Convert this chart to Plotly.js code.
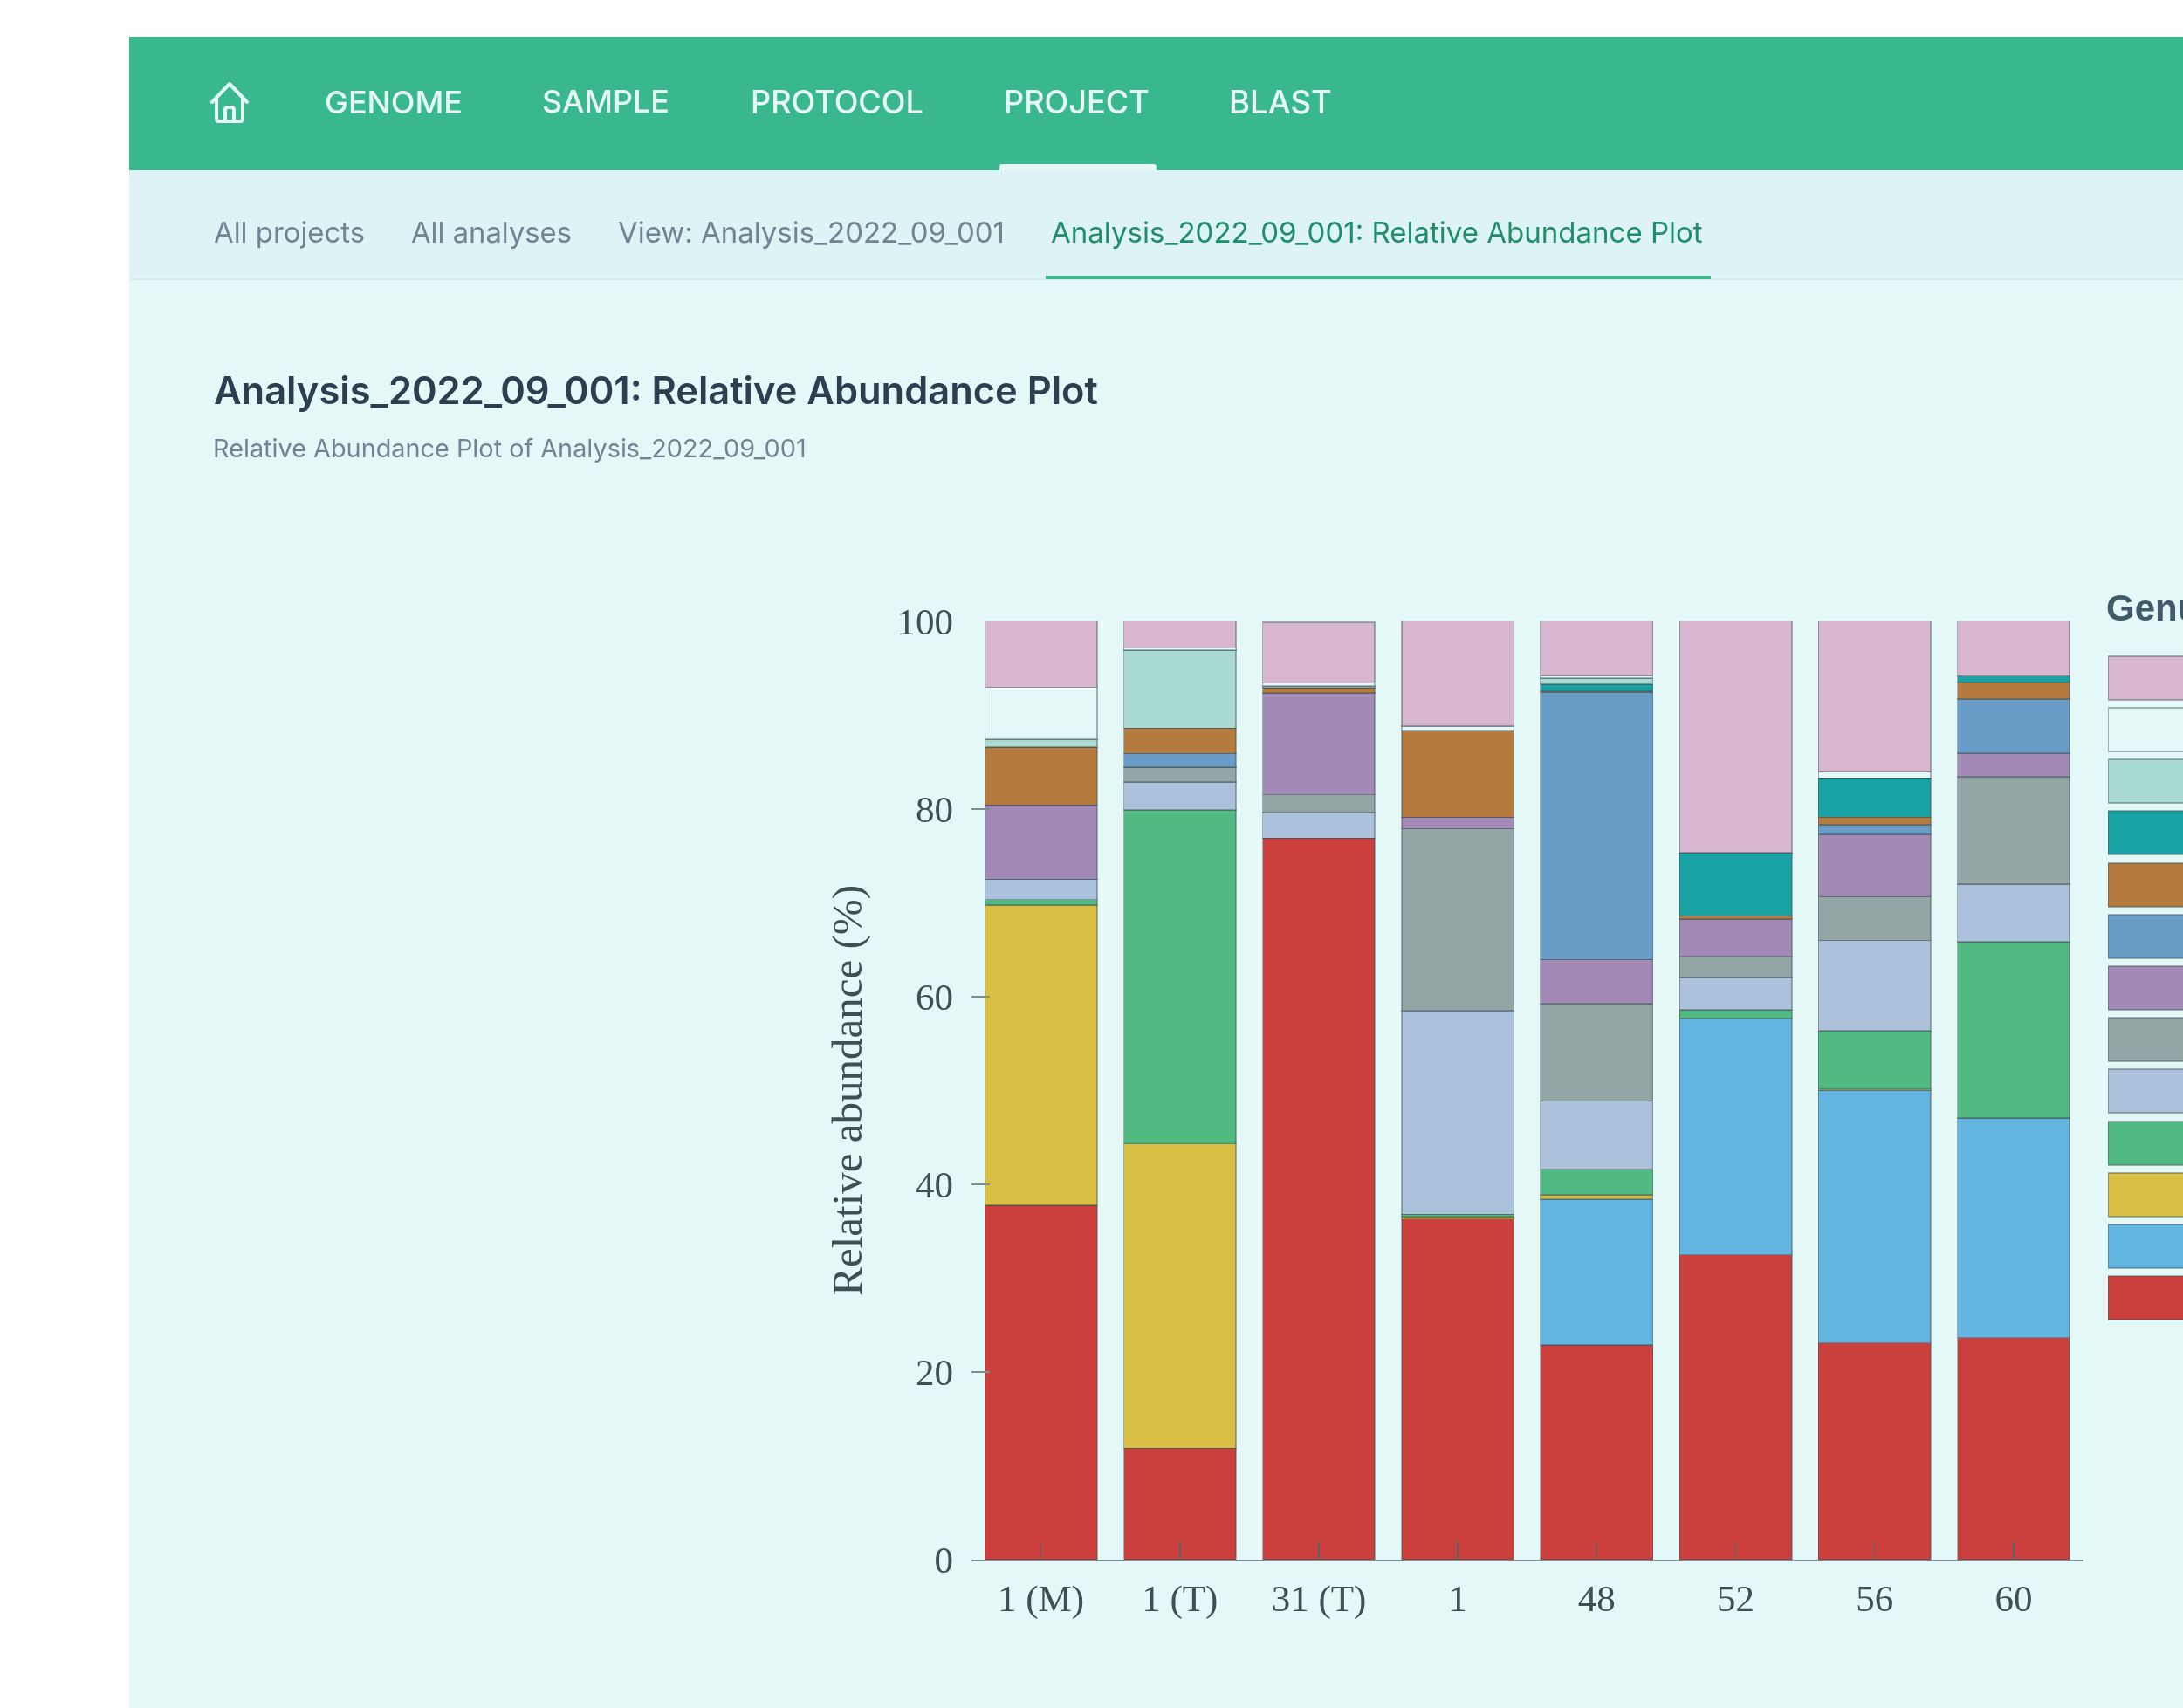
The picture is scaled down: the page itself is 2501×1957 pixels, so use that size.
<!DOCTYPE html>
<html>
<head>
<meta charset="utf-8">
<title>Analysis_2022_09_001: Relative Abundance Plot</title>
<script src="https://cdn.plot.ly/plotly-3.0.1.min.js"></script>
<style>
  html, body { margin: 0; padding: 0; width: 2501px; height: 1957px; overflow: hidden; background: #fff; }
  #page { position: absolute; left: 0; top: 0; width: 2501px; height: 1957px; overflow: hidden; font-family: Inter, sans-serif; filter: blur(0.7px); }
  .band { position: absolute; }
  .t { position: absolute; white-space: nowrap; transform: translateY(-50%); line-height: 1; }
  #chart { position: absolute; left: 0; top: 0; width: 2800px; height: 1957px; }
</style>
</head>
<body>
<div id="page">
  <div class="band" style="left:148px;top:42px;width:2353px;height:153px;background:#39B88F"></div>
  <div class="band" style="left:148px;top:195px;width:2353px;height:126px;background:#DEF3F5;border-bottom:2px solid #D5ECEC;box-sizing:border-box"></div>
  <div class="band" style="left:148px;top:321px;width:2353px;height:1636px;background:#E4F8F8"></div>
  <div class="band" style="left:1145px;top:188px;width:180px;height:7px;background:#E6F8F4;border-radius:3px 3px 0 0"></div>
  <div class="band" style="left:1198px;top:316px;width:762px;height:4px;background:#3DB68E"></div>
  <svg class="band" style="left:238px;top:92px" width="50" height="52" viewBox="0 0 50 52">
    <path d="M5 25 L25 4 L45 25 M10 21 V44 Q10 47 13 47 H37 Q40 47 40 44 V21 M20 47 V34 Q20 31 23 31 H27 Q30 31 30 34 V47" fill="none" stroke="#E4F8F4" stroke-width="4" stroke-linejoin="round" stroke-linecap="round"/>
  </svg>
  <span class="t" data-w="158" style="left:372px;top:117px;font-size:34px;font-weight:500;color:#E6F8F4">GENOME</span>
  <span class="t" data-w="146" style="left:621px;top:117px;font-size:34px;font-weight:500;color:#E6F8F4">SAMPLE</span>
  <span class="t" data-w="198" style="left:860px;top:117px;font-size:34px;font-weight:500;color:#E6F8F4">PROTOCOL</span>
  <span class="t" data-w="167" style="left:1150px;top:117px;font-size:34px;font-weight:500;color:#E6F8F4">PROJECT</span>
  <span class="t" data-w="118" style="left:1408px;top:117px;font-size:34px;font-weight:500;color:#E6F8F4">BLAST</span>
  <span class="t" data-w="173" style="left:245px;top:266px;font-size:31px;color:#6F8593">All projects</span>
  <span class="t" data-w="184" style="left:471px;top:266px;font-size:31px;color:#6F8593">All analyses</span>
  <span class="t" data-w="443" style="left:708px;top:266px;font-size:31px;color:#6F8593">View: Analysis_2022_09_001</span>
  <span class="t" data-w="747" style="left:1204px;top:267px;font-size:31px;color:#1E8F68">Analysis_2022_09_001: Relative Abundance Plot</span>
  <span class="t" data-w="1013" style="left:245px;top:448px;font-size:41px;font-weight:600;color:#2A3F4F">Analysis_2022_09_001: Relative Abundance Plot</span>
  <span class="t" data-w="680" style="left:244px;top:514px;font-size:28px;color:#6F8593">Relative Abundance Plot of Analysis_2022_09_001</span>
  <div id="chart"></div>
</div>
<script>
// Samples along the x axis
const samples = ['1 (M)', '1 (T)', '31 (T)', '1', '48', '52', '56', '60'];
const yTicks = [0, 20, 40, 60, 80, 100];

// Relative abundance (%) per sample, one series per legend colour, stacked bottom to top
const redSeries    = [37.75, 11.86, 76.87, 36.3, 22.9, 32.5, 23.1, 23.65];
const skySeries    = [0, 0, 0, 0, 15.5, 25.15, 26.95, 23.4];
const yellowSeries = [32.0, 32.44, 0, 0.25, 0.46, 0, 0.1, 0];
const greenSeries  = [0.6, 35.6, 0, 0.25, 2.74, 0.95, 6.2, 18.8];
const paleSeries   = [2.15, 2.95, 2.73, 21.7, 7.26, 3.4, 9.65, 6.15];
const greySeries   = [0, 1.6, 1.9, 19.4, 10.39, 2.3, 4.65, 11.4];
const purpleSeries = [7.9, 0, 10.85, 1.2, 4.7, 3.95, 6.65, 2.55];
const blueSeries   = [0, 1.45, 0, 0, 28.45, 0, 1.0, 5.75];
const brownSeries  = [6.2, 2.7, 0.55, 9.25, 0.15, 0.35, 0.8, 1.8];
const tealSeries   = [0, 0, 0, 0, 0.75, 6.75, 4.2, 0.7];
const mintSeries   = [0.8, 8.3, 0.2, 0, 0.65, 0, 0, 0];
const blankSeries  = [5.55, 0.25, 0.3, 0.45, 0.25, 0, 0.7, 0];
const pinkSeries   = [7.05, 2.85, 6.5, 11.2, 5.8, 24.65, 16.0, 5.8];

const seriesList = [redSeries, skySeries, yellowSeries, greenSeries, paleSeries, greySeries, purpleSeries,
                    blueSeries, brownSeries, tealSeries, mintSeries, blankSeries, pinkSeries];
const seriesColors = ['#CB3F3D', '#62B5E0', '#DABF45', '#51B982', '#ACC2DC', '#94A5A5', '#A38AB6',
                      '#679DC6', '#B57B3E', '#19A2A3', '#A8DAD1', '#E4F8F8', '#D8B6D0'];
const legendSlots = ['a', 'b', 'c', 'd', 'e', 'f', 'g', 'h', 'i', 'j', 'k', 'l', 'm'];
const legendLengths = [1, 1, 1, 1, 1, 1, 1, 1, 1, 1, 1, 1, 1];

const W = 2800, H = 1957;
const edge = 'rgba(62,80,84,0.42)';

const traces = seriesList.map((vals, i) => ({
  type: 'bar', x: samples, y: vals, showlegend: false, hoverinfo: 'y',
  marker: { color: seriesColors[i], line: { color: edge, width: 1.5 } }
}));
traces.push({
  type: 'bar', orientation: 'h', x: legendLengths, y: legendSlots, xaxis: 'x2', yaxis: 'y2',
  width: 0.845, showlegend: false, hoverinfo: 'skip',
  marker: { color: seriesColors, line: { color: edge, width: 2 } }
});

const axisFont = { family: '"Liberation Serif", serif', size: 43, color: '#404F52' };
const layout = {
  width: W, height: H, margin: { l: 0, r: 0, t: 0, b: 0 },
  paper_bgcolor: 'rgba(0,0,0,0)', plot_bgcolor: 'rgba(0,0,0,0)',
  barmode: 'stack', bargap: 0.193, showlegend: false, hovermode: false,
  xaxis: {
    domain: [1113 / W, 2386.5 / W], type: 'category', categoryorder: 'array', categoryarray: samples,
    range: [-0.5, 7.5], showgrid: false, zeroline: false, showline: true, linecolor: '#7E8E90', linewidth: 2,
    ticks: 'inside', ticklen: 21, tickwidth: 1.5, tickcolor: '#55656A', tickfont: axisFont,
    ticklabelstandoff: 5, tickangle: 0
  },
  yaxis: {
    domain: [(H - 1787) / H, (H - 711.7) / H], range: [0, 100], tickvals: yTicks, ticktext: yTicks.map(String),
    showgrid: false, zeroline: false, showline: false, ticks: 'inside', ticklen: 21, tickwidth: 1.5,
    tickcolor: '#7E8E90', tickfont: axisFont, ticklabelstandoff: 20,
    title: { text: 'Relative abundance (%)', font: { family: '"Liberation Serif", serif', size: 49, color: '#404F52' }, standoff: 24 }
  },
  xaxis2: { domain: [2415 / W, 1], anchor: 'y2', range: [0, 1], visible: false },
  yaxis2: { domain: [(H - 1516.6) / H, (H - 747.4) / H], anchor: 'x2', type: 'category', categoryorder: 'array', categoryarray: legendSlots, range: [-0.5, 12.5], visible: false },
  annotations: [{
    xref: 'paper', yref: 'paper', x: 2411 / W, y: (H - 696) / H, xanchor: 'left', yanchor: 'middle', showarrow: false,
    text: 'Genus', font: { family: '"Liberation Sans", sans-serif', size: 42, color: '#3F5A6B', weight: 700 }
  }]
};

document.fonts.ready.then(() => {
  document.querySelectorAll('.t').forEach(el => {
    const fs = parseFloat(getComputedStyle(el).fontSize);
    el.style.fontSize = (fs * parseFloat(el.dataset.w) / el.getBoundingClientRect().width).toFixed(2) + 'px';
  });
});
Plotly.newPlot('chart', traces, layout, { staticPlot: true, displayModeBar: false });
</script>
</body>
</html>
